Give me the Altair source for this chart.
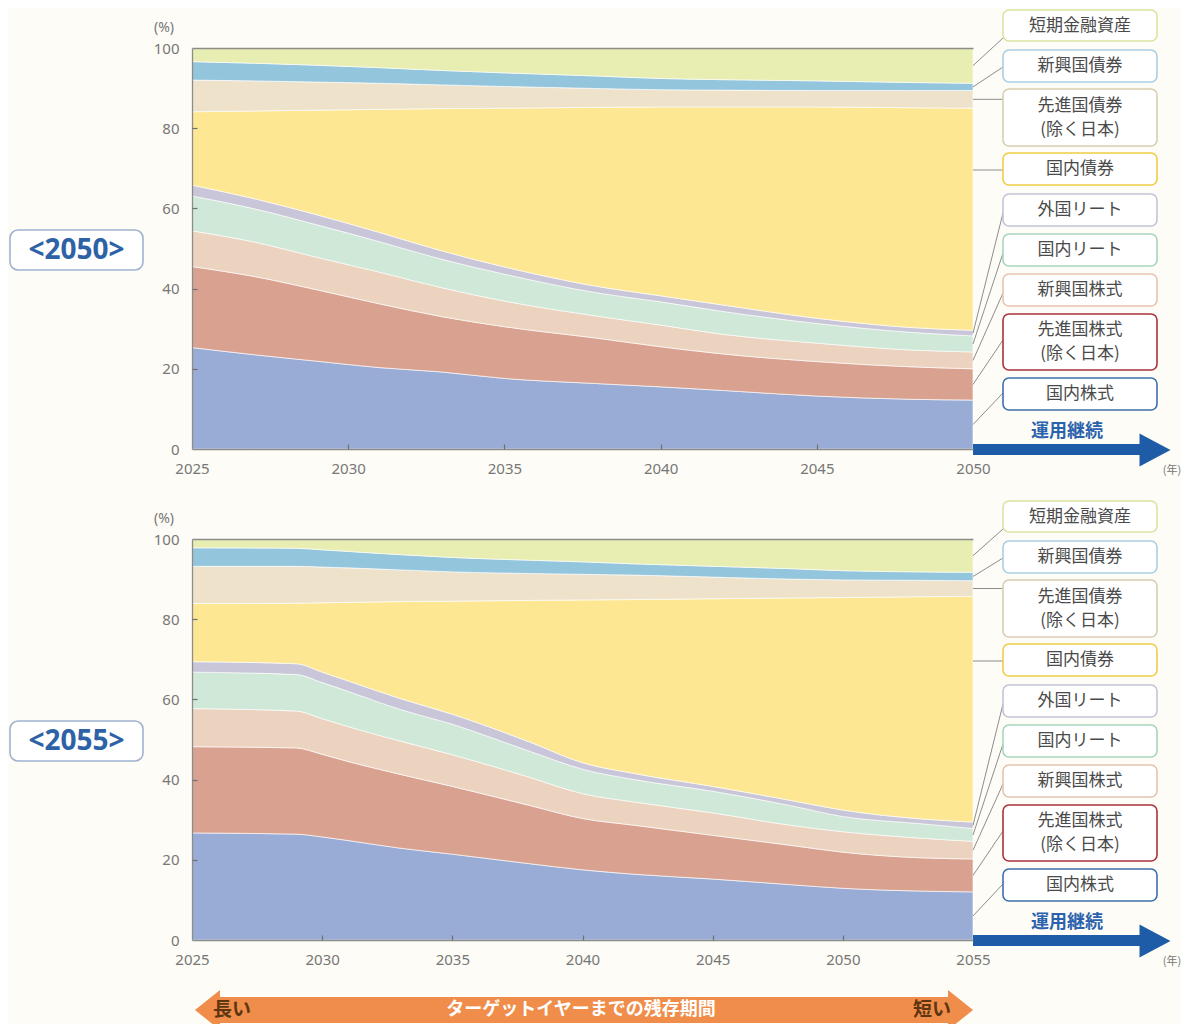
import altair as alt
import pandas as pd

# ---------------- data ----------------
ASSETS = ["国内株式", "先進国株式", "新興国株式", "国内リート", "外国リート",
          "国内債券", "先進国債券", "新興国債券", "短期金融資産"]
COLORS = ["#99acd6", "#d9a18f", "#ecd3bf", "#cfe8d7", "#c8c6d8",
          "#fee792", "#eee2ca", "#93c5dc", "#e8edb1"]

# target year 2050
YEARS_2050 = [2025, 2027, 2029, 2031, 2033, 2035, 2038, 2040, 2042, 2045, 2048, 2050]
DOM_EQ_2050 = [25.3, 23.5, 21.9, 20.3, 19.2, 17.6, 16.3, 15.5, 14.6, 13.2, 12.4, 12.2]
DEV_EQ_2050 = [20.2, 19.5, 17.8, 15.9, 13.8, 12.9, 11.3, 10.0, 9.1, 8.6, 8.1, 7.8]
EM_EQ_2050 = [8.9, 8.6, 8.1, 7.9, 7.2, 6.4, 5.5, 5.4, 4.9, 4.6, 4.2, 4.2]
DOM_REIT_2050 = [8.7, 8.3, 8.1, 7.6, 7.1, 6.7, 5.8, 5.8, 5.7, 4.9, 4.4, 4.0]
FOR_REIT_2050 = [2.7, 2.5, 2.5, 2.3, 2.1, 1.8, 1.6, 1.5, 1.6, 1.3, 1.2, 1.4]
DOM_BD_2050 = [18.3, 21.9, 26.1, 30.7, 35.5, 39.6, 44.7, 47.1, 49.4, 52.7, 54.8, 55.4]
DEV_BD_2050 = [7.9, 7.5, 7.0, 6.5, 5.9, 5.4, 4.7, 4.3, 4.2, 4.1, 4.3, 4.4]
EM_BD_2050 = [4.6, 4.4, 4.2, 3.9, 3.6, 3.4, 3.1, 2.8, 2.6, 2.4, 2.0, 1.8]
CASH_2050 = [3.4, 3.8, 4.3, 4.9, 5.6, 6.2, 7.0, 7.6, 7.9, 8.2, 8.6, 8.8]

# target year 2055
YEARS_2055 = [2025, 2029, 2030, 2031, 2033, 2035, 2038, 2040, 2042, 2045, 2048, 2050, 2053, 2055]
DOM_EQ_2055 = [26.7, 26.4, 25.7, 24.8, 22.9, 21.4, 19.0, 17.5, 16.4, 15.2, 13.8, 12.9, 12.2, 12.0]
DEV_EQ_2055 = [21.5, 21.5, 20.6, 19.7, 18.4, 16.9, 14.5, 12.8, 12.2, 10.9, 9.8, 9.0, 8.3, 8.2]
EM_EQ_2055 = [9.5, 9.2, 8.9, 8.7, 8.3, 7.9, 7.0, 6.2, 5.8, 5.6, 5.0, 5.1, 4.9, 4.4]
DOM_REIT_2055 = [9.1, 9.1, 9.0, 8.8, 7.9, 7.6, 6.5, 6.1, 5.6, 5.4, 4.9, 3.8, 3.6, 3.2]
FOR_REIT_2055 = [2.6, 2.7, 2.6, 2.6, 2.7, 2.5, 2.3, 1.6, 1.5, 1.2, 1.3, 1.6, 1.2, 1.6]
DOM_BD_2055 = [14.5, 15.1, 17.3, 19.6, 24.2, 28.2, 35.4, 40.6, 43.4, 46.8, 50.5, 53.0, 55.4, 56.3]
DEV_BD_2055 = [9.3, 9.2, 8.9, 8.6, 7.9, 7.3, 6.7, 6.4, 6.1, 5.4, 4.7, 4.4, 4.1, 3.9]
EM_BD_2055 = [4.6, 4.5, 4.3, 4.1, 3.8, 3.6, 3.3, 3.1, 2.8, 2.7, 2.6, 2.3, 2.1, 2.1]
CASH_2055 = [2.2, 2.3, 2.7, 3.1, 3.9, 4.6, 5.3, 5.7, 6.2, 6.8, 7.4, 7.9, 8.2, 8.3]

SERIES_2050 = [DOM_EQ_2050, DEV_EQ_2050, EM_EQ_2050, DOM_REIT_2050, FOR_REIT_2050,
               DOM_BD_2050, DEV_BD_2050, EM_BD_2050, CASH_2050]
SERIES_2055 = [DOM_EQ_2055, DEV_EQ_2055, EM_EQ_2055, DOM_REIT_2055, FOR_REIT_2055,
               DOM_BD_2055, DEV_BD_2055, EM_BD_2055, CASH_2055]

XTICKS_2050 = [2025, 2030, 2035, 2040, 2045, 2050]
XTICKS_2055 = [2025, 2030, 2035, 2040, 2045, 2050, 2055]
YTICKS = [0, 20, 40, 60, 80, 100]

# legend boxes, top to bottom (one or two text lines each)
LEGEND_ASSETS = ["短期金融資産", "新興国債券", "先進国債券", "国内債券", "外国リート",
                 "国内リート", "新興国株式", "先進国株式", "国内株式"]
LEGEND_LINES = [["短期金融資産"], ["新興国債券"], ["先進国債券", "(除く日本)"], ["国内債券"],
                ["外国リート"], ["国内リート"], ["新興国株式"], ["先進国株式", "(除く日本)"],
                ["国内株式"]]
PANEL_LABELS = ["<2050>", "<2055>"]
ARROW_TEXT = "運用継続"
YEAR_UNIT = "(年)"
PCT_UNIT = "(%)"
BOTTOM_TEXT = "ターゲットイヤーまでの残存期間"
LONG_TEXT = "長い"
SHORT_TEXT = "短い"

# ---------------- layout (pixels) ----------------
W, H = 1173, 1016
PX0, PX1 = 184, 965
Y_BOTTOM, Y_TOP = 441, 40
PANEL_DY = [0, 491]
JP = "Noto Sans CJK JP"

BOX_X0, BOX_X1 = 995, 1149
BOX_TOP = [2, 42, 81, 145, 186, 226, 266, 306, 370]
BOX_BOT = [33, 74, 138, 177, 218, 258, 298, 362, 402]
LINE_GAP = 24
BOX_EDGE = ["#dbe3a0", "#a9cfe2", "#d9cdb3", "#efcd45", "#c4c3d8",
            "#a6d6ba", "#e6c3b0", "#a8323d", "#3f6fa9"]
LEAD_END_Y = [30, 59, None, 162, 205, 245, 285, 332, 385]
HORIZONTAL = ["先進国債券"]
AT_BOX = ["国内債券"]


def long_table(years, series):
    rows = []
    for k, (asset, vals) in enumerate(zip(ASSETS, series)):
        for yr, v in zip(years, vals):
            rows.append({"year": yr, "asset": asset, "share": v, "k": k})
    return pd.DataFrame(rows)


def xscale(end):
    return alt.Scale(domain=[2025, end], range=[PX0, PX1], nice=False, zero=False)


def yscale(dy):
    return alt.Scale(domain=[0, 100], range=[Y_BOTTOM + dy, Y_TOP + dy], nice=False)


def px_to_units(py):
    return (Y_BOTTOM - py) / (Y_BOTTOM - Y_TOP) * 100.0


def text_layer(df, **kw):
    return alt.Chart(df).mark_text(align="center", baseline="middle", **kw).encode(
        x=alt.X("x:Q", scale=None), y=alt.Y("y:Q", scale=None), text="t:N")


def rect_layer(df, **kw):
    return alt.Chart(df).mark_rect(**kw).encode(
        x=alt.X("x0:Q", scale=None), x2="x1:Q",
        y=alt.Y("y0:Q", scale=None), y2="y1:Q")


def panel(years, series, end, xticks, label, dy):
    layers = []
    df = long_table(years, series)
    area = alt.Chart(df).mark_area(
        interpolate="monotone", stroke="#ffffff", strokeWidth=0.9, strokeOpacity=0.7
    ).encode(
        x=alt.X("year:Q", scale=xscale(end),
                axis=alt.Axis(orient="bottom", offset=Y_BOTTOM + dy - H, values=xticks,
                              format="d", title=None, grid=False, ticks=False, tickSize=0,
                              labelPadding=12, labelFlush=False, labelOverlap=False, zindex=2)),
        y=alt.Y("share:Q", stack="zero", scale=yscale(dy),
                axis=alt.Axis(orient="left", offset=-PX0, values=YTICKS, title=None,
                              grid=False, ticks=False, tickSize=0, labelPadding=13,
                              labelFlush=False, zindex=2)),
        color=alt.Color("asset:N", scale=alt.Scale(domain=ASSETS, range=COLORS), legend=None),
        order=alt.Order("k:Q"),
    )
    layers.append(area)

    # inward ticks
    tdf = pd.DataFrame({"year": [xticks[0]], "share": [YTICKS[0]]})
    ticks = alt.Chart(tdf).mark_point(opacity=0).encode(
        x=alt.X("year:Q", scale=xscale(end),
                axis=alt.Axis(orient="bottom", offset=Y_BOTTOM + dy - H - 5, values=xticks[1:-1],
                              labels=False, domain=False, ticks=True, tickSize=5,
                              tickColor="#6f6f6f", tickWidth=1.2, title=None, grid=False, zindex=2)),
        y=alt.Y("share:Q", scale=yscale(dy),
                axis=alt.Axis(orient="left", offset=-PX0 - 5, values=YTICKS[1:-1],
                              labels=False, domain=False, ticks=True, tickSize=5,
                              tickColor="#6f6f6f", tickWidth=1.2, title=None, grid=False, zindex=2)),
    )
    layers.append(ticks)

    # leader lines from band middles at the final year to the legend boxes
    last = {a: s[-1] for a, s in zip(ASSETS, series)}
    rows = []
    for i, a in enumerate(LEGEND_ASSETS):
        idx = ASSETS.index(a)
        lo = sum(last[b] for b in ASSETS[:idx])
        mid = lo + last[a] / 2.0
        if a in HORIZONTAL:
            yend = mid
        elif a in AT_BOX:
            mid = yend = px_to_units(LEAD_END_Y[i])
        else:
            yend = px_to_units(LEAD_END_Y[i])
        rows.append({"x0": end, "mid": mid, "yend": yend})
    ldf = pd.DataFrame(rows)
    lead = alt.Chart(ldf).mark_rule(color="#8d8d8d", strokeWidth=1).encode(
        x=alt.X("x0:Q", scale=xscale(end),
                axis=alt.Axis(orient="top", offset=-(Y_TOP + dy), labels=False, ticks=False,
                              domain=True, title=None, grid=False, zindex=2)),
        y=alt.Y("mid:Q", scale=yscale(dy), axis=None),
        x2=alt.value(BOX_X0),
        y2=alt.Y2("yend:Q"),
    )
    layers.append(lead)

    # legend boxes
    bdf = pd.DataFrame({
        "x0": [BOX_X0] * 9, "x1": [BOX_X1] * 9,
        "y0": [t + dy for t in BOX_TOP], "y1": [b + dy for b in BOX_BOT],
        "edge": BOX_EDGE,
    })
    layers.append(alt.Chart(bdf).mark_rect(cornerRadius=6, fill="white", strokeWidth=1.6).encode(
        x=alt.X("x0:Q", scale=None), x2="x1:Q",
        y=alt.Y("y0:Q", scale=None), y2="y1:Q",
        stroke=alt.Stroke("edge:N", scale=None)))
    trows = []
    for lines, t, b in zip(LEGEND_LINES, BOX_TOP, BOX_BOT):
        c = (t + b) / 2 + dy
        n = len(lines)
        for j, s in enumerate(lines):
            trows.append({"x": (BOX_X0 + BOX_X1) / 2, "y": c + (j - (n - 1) / 2) * LINE_GAP, "t": s})
    layers.append(text_layer(pd.DataFrame(trows), font=JP, fontSize=17, color="#4a4a4a"))

    # panel label box
    ldf2 = pd.DataFrame({"x0": [2], "x1": [135], "y0": [222 + dy], "y1": [262 + dy],
                         "x": [68.5], "y": [243 + dy], "t": [label]})
    layers.append(rect_layer(ldf2, cornerRadius=8, fill="white", stroke="#9fb3cf", strokeWidth=1.6))
    layers.append(text_layer(ldf2, font="Noto Sans", fontSize=28, fontWeight="bold",
                             color="#2d63a6"))

    # (%) unit
    layers.append(text_layer(pd.DataFrame({"x": [156], "y": [20 + dy], "t": [PCT_UNIT]}),
                             font="Noto Sans", fontSize=14, color="#777777"))

    # blue arrow
    adf = pd.DataFrame({"x0": [PX1], "x1": [1136], "y0": [436 + dy], "y1": [447 + dy]})
    layers.append(rect_layer(adf, color="#1f5ca8"))
    hdf = pd.DataFrame({"x": [1147], "y": [442 + dy]})
    layers.append(alt.Chart(hdf).mark_point(shape="M0.94,0L-0.94,-1L-0.94,1Z", filled=True,
                                            size=1089, color="#1f5ca8", opacity=1,
                                            strokeWidth=0).encode(
        x=alt.X("x:Q", scale=None), y=alt.Y("y:Q", scale=None)))
    layers.append(text_layer(pd.DataFrame({"x": [1059], "y": [424 + dy], "t": [ARROW_TEXT]}),
                             font=JP, fontSize=18, fontWeight="bold", color="#2b62ad"))
    layers.append(text_layer(pd.DataFrame({"x": [1164], "y": [463 + dy], "t": [YEAR_UNIT]}),
                             font=JP, fontSize=11, color="#777777"))
    return layers


layers = []
layers += panel(YEARS_2050, SERIES_2050, 2050, XTICKS_2050, PANEL_LABELS[0], PANEL_DY[0])
layers += panel(YEARS_2055, SERIES_2055, 2055, XTICKS_2055, PANEL_LABELS[1], PANEL_DY[1])

# bottom orange double arrow
odf = pd.DataFrame({"x0": [205], "x1": [947], "y0": [989], "y1": [1015]})
layers.append(rect_layer(odf, color="#f08d4a"))
layers.append(alt.Chart(pd.DataFrame({"x": [199.5], "y": [1002]})).mark_point(
    shape="M-0.625,0L0.625,-1L0.625,1Z", filled=True, size=1600, color="#f08d4a",
    opacity=1, strokeWidth=0).encode(x=alt.X("x:Q", scale=None), y=alt.Y("y:Q", scale=None)))
layers.append(alt.Chart(pd.DataFrame({"x": [952.5], "y": [1002]})).mark_point(
    shape="M0.625,0L-0.625,-1L-0.625,1Z", filled=True, size=1600, color="#f08d4a",
    opacity=1, strokeWidth=0).encode(x=alt.X("x:Q", scale=None), y=alt.Y("y:Q", scale=None)))
layers.append(text_layer(pd.DataFrame({"x": [573], "y": [1002], "t": [BOTTOM_TEXT]}),
                         font=JP, fontSize=18, fontWeight="bold", color="#ffffff"))
layers.append(text_layer(pd.DataFrame({"x": [224, 924], "y": [1002, 1002],
                                       "t": [LONG_TEXT, SHORT_TEXT]}),
                         font=JP, fontSize=19, fontWeight="bold", color="#5e3511"))

chart = alt.layer(*layers).resolve_scale(
    x="independent", y="independent"
).properties(
    width=W, height=H, padding=0, autosize=alt.AutoSizeParams(type="none")
).configure(
    background="#fdfcf6"
).configure_view(
    stroke=None
).configure_axis(
    labelFont="Noto Sans", labelFontSize=15, labelColor="#777777",
    domainColor="#8c8c8c", domainWidth=1.3
)

chart.save("out.html", embed_options={"renderer": "svg", "actions": False})
